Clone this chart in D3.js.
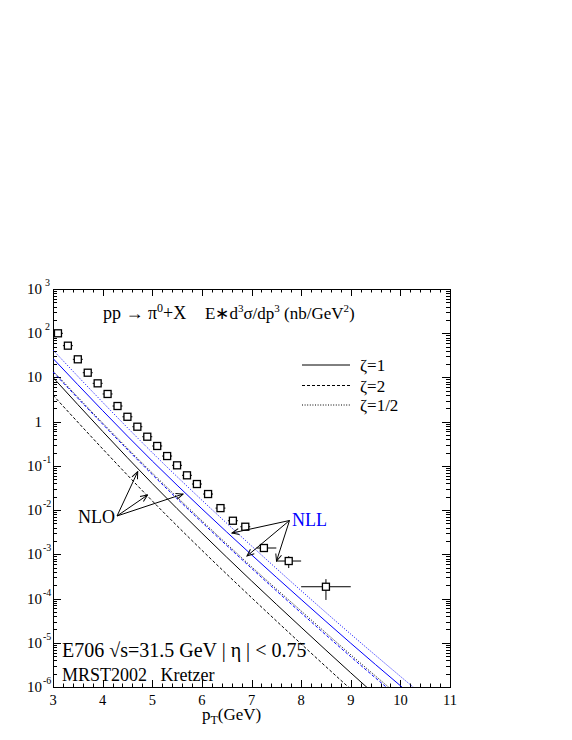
<!DOCTYPE html>
<meta charset="utf-8">
<script src="https://d3js.org/d3.v7.min.js"></script>
<style>
body { margin: 0; background: #fff; }
text { font-family: "Liberation Serif", "Times New Roman", serif; fill: #000; white-space: pre; }
</style>
<body>
<script>

// E706 pi0 data
var pt      = [3.1, 3.3, 3.5, 3.7, 3.9, 4.1, 4.3, 4.5, 4.7, 4.9, 5.1, 5.3, 5.5, 5.7, 5.9, 6.125, 6.375, 6.625, 6.875, 7.25, 7.75, 8.5]
var ptLow   = [3.0, 3.2, 3.4, 3.6, 3.8, 4.0, 4.2, 4.4, 4.6, 4.8, 5.0, 5.2, 5.4, 5.6, 5.8, 6.025, 6.275, 6.525, 6.775, 7.1, 7.5, 8.0]
var ptHigh  = [3.2, 3.4, 3.6, 3.8, 4.0, 4.2, 4.4, 4.6, 4.8, 5.0, 5.2, 5.4, 5.6, 5.8, 6.0, 6.225, 6.475, 6.725, 6.975, 7.5, 8.0, 9.0]
var sigma   = [99.6, 52.3, 25.7, 12.8, 7.36, 4.23, 2.26, 1.29, 0.769, 0.457, 0.282, 0.167, 0.103, 0.0612, 0.0389, 0.0231, 0.0111, 0.00575, 0.00421, 0.00139, 7.06e-4, 1.85e-4]
var sigLow  = [95, 50, 24.5, 12.2, 7.0, 4.0, 2.15, 1.22, 0.73, 0.434, 0.267, 0.158, 0.097, 0.0578, 0.0366, 0.0216, 0.0103, 0.0053, 0.0038, 0.00122, 4.9e-4, 9.3e-5]
var sigHigh = [104, 54.6, 26.9, 13.4, 7.7, 4.45, 2.38, 1.36, 0.81, 0.48, 0.297, 0.176, 0.109, 0.0646, 0.0412, 0.0246, 0.0119, 0.0062, 0.0046, 0.00156, 9.1e-4, 2.75e-4]

// theory curves
var ptGrid  = [3, 4, 5, 6, 7, 8, 9, 10, 10.5]
var nloZ1   = [10, 0.603, 0.0398, 3.02e-3, 2.51e-4, 2.24e-5, 2.09e-6, 2.09e-7, 6.76e-8]
var nloZ2   = [3.98, 0.243, 0.0162, 1.24e-3, 1.05e-4, 9.44e-6, 8.91e-7, 9.02e-8, 2.95e-8]
var nloZh   = [14.1, 0.933, 0.0692, 5.75e-3, 5.25e-4, 5.25e-5, 5.37e-6, 5.89e-7, 1.95e-7]
var nllZ1   = [26.9, 1.78, 0.129, 0.0107, 9.77e-4, 9.55e-5, 9.77e-6, 1.07e-6, 3.63e-7]
var nllZ2   = [13.3, 0.881, 0.0638, 5.31e-3, 4.84e-4, 4.73e-5, 4.84e-6, 5.31e-7, 1.74e-7]
var nllZh   = [41.7, 2.75, 0.200, 0.0168, 1.55e-3, 1.51e-4, 1.57e-5, 1.74e-6, 5.89e-7]

var xTicks = [3, 4, 5, 6, 7, 8, 9, 10, 11]
var yExps  = [3, 2, 1, 0, -1, -2, -3, -4, -5, -6]
var legendLabels = ["\u03b6=1", "\u03b6=2", "\u03b6=1/2"]

// annotation arrows (start, then targets) in data units
var nloFrom = [4.29, 7.36e-3]
var nloTo   = [[4.707, 0.0738], [4.904, 0.0219], [5.62, 0.0231]]
var nllFrom = [7.766, 5.82e-3]
var nllTo   = [[6.607, 3.03e-3], [6.909, 9.16e-4], [7.504, 7.06e-4]]

var blue = "#0000ff"
var dashes = { solid: null, dashed: "3,2", dotted: "1,1.6" }

var fL = 53, fR = 450, fT = 289, fB = 687

var svg = d3.select("body").append("svg")
            .attr("width", 572)
            .attr("height", 740)

var x = d3.scaleLinear().domain([3, 11]).range([fL, fR])
var y = d3.scaleLog().domain([1e-6, 1e3]).range([fB, fT])

var defs = svg.append("defs")
defs.append("clipPath").attr("id", "frame")
   .append("rect")
   .attr("x", fL).attr("y", fT)
   .attr("width", fR - fL).attr("height", fB - fT)

defs.append("marker")
   .attr("id", "head")
   .attr("viewBox", "-8 -4 9 8")
   .attr("refX", 0).attr("refY", 0)
   .attr("markerUnits", "userSpaceOnUse")
   .attr("markerWidth", 9).attr("markerHeight", 8)
   .attr("orient", "auto")
   .append("path")
   .attr("d", "M -7,-3 L 0,0 L -7,3")
   .attr("fill", "none")
   .attr("stroke", "#000")
   .attr("stroke-width", 1)

// ---- ticks (inside, mirrored) ----
var ticks = svg.append("g").attr("stroke", "#000").attr("stroke-width", 1)

var xMinor = d3.range(3, 11.001, 0.2)
xMinor.forEach(function(v) {
  var major = Math.abs(v - Math.round(v)) < 1e-6
  var len = major ? 7 : 3.5
  var px = Math.round(x(v)) + 0.5
  ticks.append("line").attr("x1", px).attr("x2", px).attr("y1", fB).attr("y2", fB - len)
  ticks.append("line").attr("x1", px).attr("x2", px).attr("y1", fT).attr("y2", fT + len)
})

yExps.forEach(function(e) {
  var py = Math.round(y(Math.pow(10, e))) + 0.5
  ticks.append("line").attr("x1", fL).attr("x2", fL + 8).attr("y1", py).attr("y2", py)
  ticks.append("line").attr("x1", fR).attr("x2", fR - 8).attr("y1", py).attr("y2", py)
  if (e < 3) {
    for (var k = 2; k <= 9; k++) {
      var pm = Math.round(y(k * Math.pow(10, e))) + 0.5
      ticks.append("line").attr("x1", fL).attr("x2", fL + 4).attr("y1", pm).attr("y2", pm)
      ticks.append("line").attr("x1", fR).attr("x2", fR - 4).attr("y1", pm).attr("y2", pm)
    }
  }
})

svg.append("rect")
   .attr("x", fL + 0.5).attr("y", fT + 0.5)
   .attr("width", fR - fL).attr("height", fB - fT)
   .attr("fill", "none").attr("stroke", "#000").attr("stroke-width", 1)

// ---- tick labels ----
svg.append("g").selectAll("text").data(xTicks).enter().append("text")
   .attr("x", function(d) { return x(d) })
   .attr("y", 705)
   .attr("text-anchor", "middle")
   .style("font-size", "14.5px")
   .text(function(d) { return d })

var yl = svg.append("g")
yExps.forEach(function(e) {
  var py = y(Math.pow(10, e))
  var base = e === 0 ? "1" : "10"
  yl.append("text").attr("x", 42).attr("y", py + 5)
    .attr("text-anchor", "end").style("font-size", "15px").text(base)
  if (e !== 0 && e !== 1) {
    yl.append("text").attr("x", e < 0 ? 43 : 45).attr("y", py - 3)
      .style("font-size", "10px").text(e)
  }
})

// axis title
var xt = svg.append("text").attr("x", 202).attr("y", 720).style("font-size", "17px")
xt.append("tspan").text("p")
xt.append("tspan").attr("dy", 4).style("font-size", "12px").text("T")
xt.append("tspan").attr("dy", -4).text("(GeV)")

// ---- curves ----
var line = d3.line()
             .x(function(d) { return x(d[0]) })
             .y(function(d) { return y(d[1]) })
             .curve(d3.curveMonotoneX)

var curves = [
  { v: nloZ2, c: "#000", s: "dashed" },
  { v: nloZ1, c: "#000", s: "solid" },
  { v: nloZh, c: "#000", s: "dotted" },
  { v: nllZ2, c: blue, s: "dashed" },
  { v: nllZ1, c: blue, s: "solid" },
  { v: nllZh, c: blue, s: "dotted" }
]

var cg = svg.append("g").attr("clip-path", "url(#frame)")
curves.forEach(function(c) {
  cg.append("path")
    .attr("d", line(ptGrid.map(function(p, i) { return [p, c.v[i]] })))
    .attr("fill", "none")
    .attr("stroke", c.c)
    .attr("stroke-width", 1)
    .attr("stroke-dasharray", dashes[c.s])
})

// ---- data points ----
var pg = cg.append("g").attr("stroke", "#000").attr("stroke-width", 1)
pt.forEach(function(p, i) {
  var cx = x(p), cy = y(sigma[i]), h = 3.5
  if (x(ptLow[i]) < cx - h) pg.append("line").attr("x1", x(ptLow[i])).attr("x2", cx - h).attr("y1", cy).attr("y2", cy)
  if (x(ptHigh[i]) > cx + h) pg.append("line").attr("x1", cx + h).attr("x2", x(ptHigh[i])).attr("y1", cy).attr("y2", cy)
  if (y(sigHigh[i]) < cy - h) pg.append("line").attr("x1", cx).attr("x2", cx).attr("y1", y(sigHigh[i])).attr("y2", cy - h)
  if (y(sigLow[i]) > cy + h) pg.append("line").attr("x1", cx).attr("x2", cx).attr("y1", cy + h).attr("y2", y(sigLow[i]))
  pg.append("rect")
    .attr("x", cx - h).attr("y", cy - h)
    .attr("width", 2 * h).attr("height", 2 * h)
    .attr("fill", "#fff")
    .attr("stroke-width", 1.3)
})

// ---- annotations ----
function arrows(from, to) {
  to.forEach(function(t) {
    svg.append("line")
       .attr("x1", x(from[0])).attr("y1", y(from[1]))
       .attr("x2", x(t[0])).attr("y2", y(t[1]))
       .attr("stroke", "#000").attr("stroke-width", 1)
       .attr("marker-end", "url(#head)")
  })
}
arrows(nloFrom, nloTo)
arrows(nllFrom, nllTo)

svg.append("text").attr("x", 78).attr("y", 523).style("font-size", "18px").text("NLO")
svg.append("text").attr("x", 292).attr("y", 526).style("font-size", "18px")
   .style("fill", blue).text("NLL")

// title
var t1 = svg.append("text").attr("x", 103).attr("y", 319).style("font-size", "18px")
t1.append("tspan").text("pp \u2192 \u03c0")
t1.append("tspan").attr("dy", -7).style("font-size", "12px").text("0")
t1.append("tspan").attr("dy", 7).text("+X")

var t2 = svg.append("text").attr("x", 205).attr("y", 319).style("font-size", "17px")
t2.append("tspan").text("E\u2217d")
t2.append("tspan").attr("dy", -7).style("font-size", "11px").text("3")
t2.append("tspan").attr("dy", 7).text("\u03c3/dp")
t2.append("tspan").attr("dy", -7).style("font-size", "11px").text("3")
t2.append("tspan").attr("dy", 7).text(" (nb/GeV")
t2.append("tspan").attr("dy", -7).style("font-size", "11px").text("2")
t2.append("tspan").attr("dy", 7).text(")")

// legend
var legY = [365, 385.5, 405]
legendLabels.forEach(function(l, i) {
  var s = ["solid", "dashed", "dotted"][i]
  svg.append("line")
     .attr("x1", 302).attr("x2", 350)
     .attr("y1", legY[i]).attr("y2", legY[i])
     .attr("stroke", "#000").attr("stroke-width", 1)
     .attr("stroke-dasharray", dashes[s])
  svg.append("text").attr("x", 360).attr("y", legY[i] + 6)
     .style("font-size", "17px").text(l)
})

// bottom-left labels
svg.append("text").attr("x", 62).attr("y", 657).style("font-size", "20px")
   .text("E706 \u221as=31.5 GeV | \u03b7 | < 0.75")
svg.append("text").attr("x", 62).attr("y", 681).style("font-size", "18px")
   .text("MRST2002   Kretzer")

</script>
</body>
